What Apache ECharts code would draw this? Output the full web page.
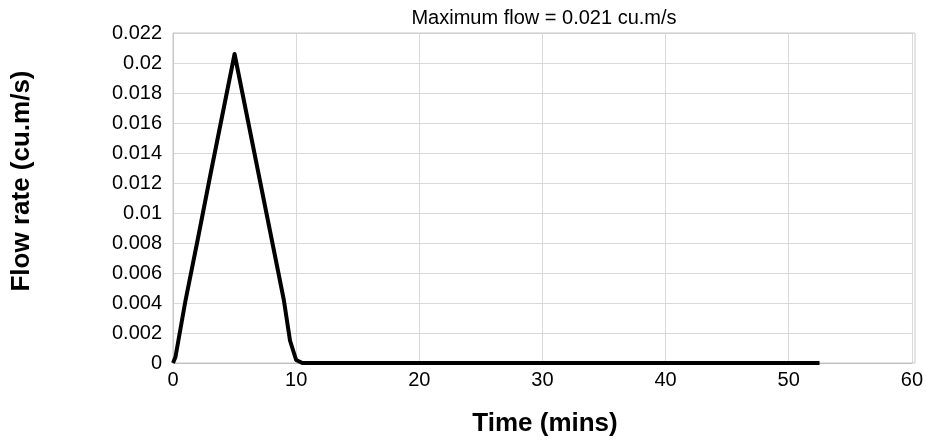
<!DOCTYPE html>
<html>
<head>
<meta charset="utf-8">
<script src="https://cdn.jsdelivr.net/npm/echarts@6/dist/echarts.min.js"></script>
<style>
  html, body { margin: 0; padding: 0; background: #fff; }
  #chart { width: 926px; height: 441px; }
</style>
</head>
<body>
<div id="chart"></div>
<script>
// hydrograph: time in minutes, flow in cu.m/s
var timeMins = [0, 0.2, 1, 2, 3, 4, 5, 6, 7, 8, 9, 9.5, 10, 10.5, 52.5];
var flowRate = [0, 0.0004, 0.0041, 0.0082, 0.0124, 0.0165, 0.0206, 0.0165, 0.0124, 0.0083, 0.0042, 0.0015, 0.0002, 0, 0];
var xTicks = [0, 10, 20, 30, 40, 50, 60];
var yTicks = [0, 0.002, 0.004, 0.006, 0.008, 0.01, 0.012, 0.014, 0.016, 0.018, 0.02, 0.022];

var points = timeMins.map(function (t, i) { return [t, flowRate[i]]; });
var font = 'Liberation Sans, Arial, sans-serif';

var chart = echarts.init(document.getElementById('chart'));
chart.setOption({
    animation: false,
    backgroundColor: '#fff',
    grid: { left: 173, right: 11, top: 33, bottom: 78 },
    xAxis: {
        type: 'value',
        min: xTicks[0],
        max: xTicks[xTicks.length - 1],
        interval: xTicks[1] - xTicks[0],
        axisLine: { lineStyle: { color: '#b3b3b3', width: 1 } },
        axisTick: { show: false },
        axisLabel: { color: '#000', fontSize: 20, fontFamily: font, margin: 7 },
        splitLine: { show: true, lineStyle: { color: '#d9d9d9' } }
    },
    yAxis: {
        type: 'value',
        min: yTicks[0],
        max: yTicks[yTicks.length - 1],
        interval: yTicks[1] - yTicks[0],
        axisLine: { show: true, lineStyle: { color: '#c8c8c8', width: 1 } },
        axisTick: { show: false },
        axisLabel: { color: '#000', fontSize: 20, fontFamily: font, margin: 11 },
        splitLine: { show: true, lineStyle: { color: '#d9d9d9' } }
    },
    series: [{
        type: 'line',
        data: points,
        showSymbol: false,
        lineStyle: { color: '#000', width: 4, join: 'round' }
    }],
    graphic: [
        // frame on top/right of the plot
        { type: 'rect', silent: true, z: 1, shape: { x: 173, y: 33, width: 742, height: 330 },
          style: { fill: null, stroke: '#c8c8c8', lineWidth: 1 } },
        { type: 'text', x: 544, y: 18, style: {
            text: 'Maximum flow = 0.021 cu.m/s', font: '20px ' + font, fill: '#000',
            textAlign: 'center', textVerticalAlign: 'middle' } },
        { type: 'text', x: 545, y: 424, style: {
            text: 'Time (mins)', font: 'bold 26px ' + font, fill: '#000',
            textAlign: 'center', textVerticalAlign: 'middle' } },
        { type: 'text', x: 22, y: 181, rotation: Math.PI / 2, style: {
            text: 'Flow rate (cu.m/s)', font: 'bold 26px ' + font, fill: '#000',
            textAlign: 'center', textVerticalAlign: 'middle' } }
    ]
});
</script>
</body>
</html>
